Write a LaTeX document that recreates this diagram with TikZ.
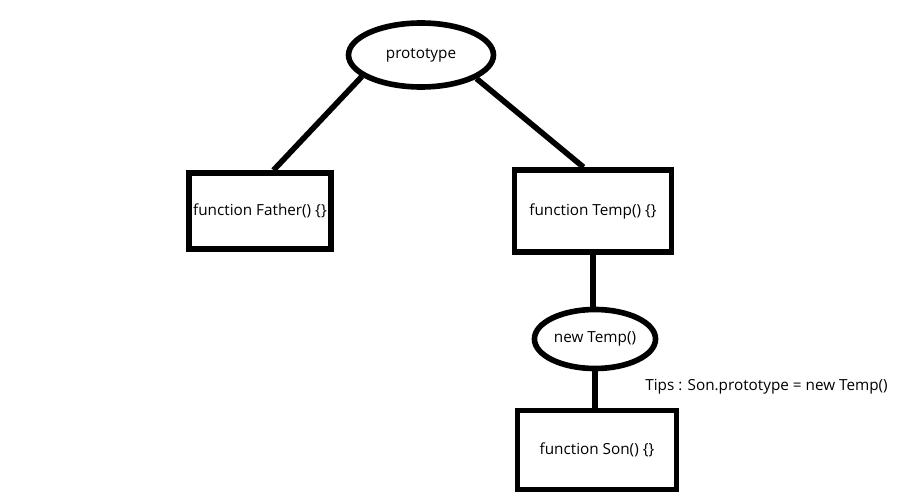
\documentclass[tikz,border=0pt]{standalone}
\usepackage{fontspec}
\setmainfont{Open Sans}
\usetikzlibrary{shapes.geometric,calc}
\tikzset{
  fnbox/.style={draw,line width=3.2pt,inner sep=2pt,align=center},
  objell/.style={draw,ellipse,line width=3.2pt,inner sep=1pt,align=center},
  link/.style={line width=3.2pt},
  tip/.style={anchor=west,inner sep=0pt},
}
\begin{document}
\begin{tikzpicture}[x=0.02cm,y=-0.02cm,font=\fontsize{8.7}{10.5}\selectfont]
  \useasboundingbox (0,0) rectangle (900,500);
  \node[objell,minimum width=2.9cm,minimum height=1.28cm] (proto) at (421,55) {prototype};
  \node[fnbox,minimum width=2.84cm,minimum height=1.52cm] (father) at (260,211) {function Father() \{\}};
  \node[fnbox,minimum width=3.14cm,minimum height=1.64cm] (temp) at (593,211) {function Temp() \{\}};
  \node[objell,minimum width=2.32cm,minimum height=1.18cm] (newtemp) at (595,339) {new Temp()};
  \node[fnbox,minimum width=3.18cm,minimum height=1.58cm] (son) at (597,450) {function Son() \{\}};
  \node[tip] (tips) at (645,387) {Tips : Son.prototype = new Temp()};
  \draw[link] (proto.200) -- ([xshift=0.27cm]father.north);
  \draw[link] (proto.337) -- ([xshift=-0.19cm]temp.north);
  \draw[link] (temp.south) -- (temp.south |- newtemp.north);
  \draw[link] (newtemp.south) -- (newtemp.south |- son.north);
\end{tikzpicture}
\end{document}
